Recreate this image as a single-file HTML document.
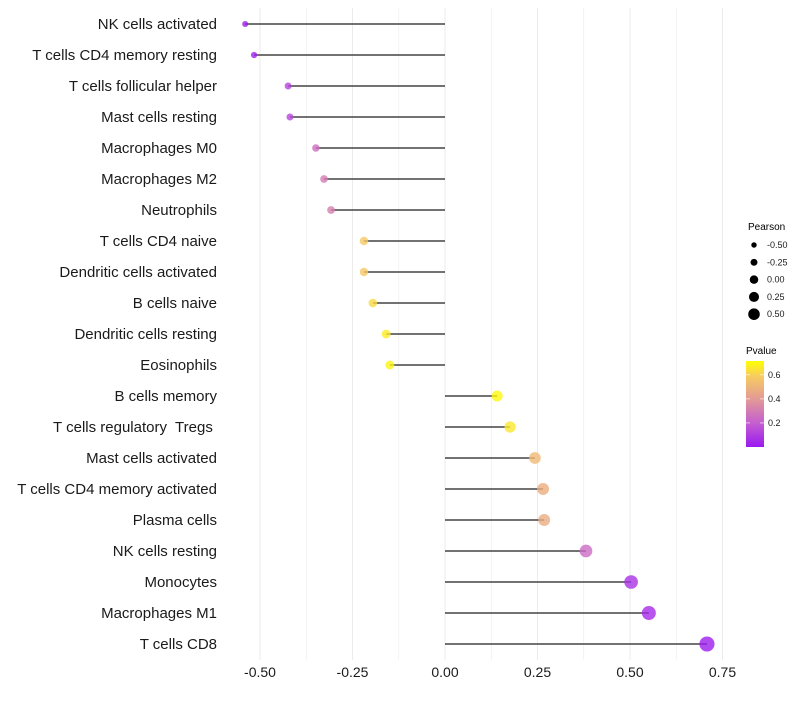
<!DOCTYPE html>
<html><head><meta charset="utf-8"><style>
html,body{margin:0;padding:0;background:#fff;}
svg text{font-family:"Liberation Sans",sans-serif;white-space:pre;}
</style></head><body>
<svg id="chart" width="800" height="700">
<defs><linearGradient id="pg" x1="0" y1="1" x2="0" y2="0">
<stop offset="0" stop-color="#9A1AF0"/><stop offset="0.28" stop-color="#C55FCF"/>
<stop offset="0.56" stop-color="#E39A95"/><stop offset="0.83" stop-color="#F7CD5E"/><stop offset="1" stop-color="#FFFF00"/>
</linearGradient></defs>
<g id="grid"></g><g id="marks"></g><g id="axes"></g>
<g id="legend">
<text x="748" y="230" font-size="10">Pearson</text>
<text x="746" y="354" font-size="10">Pvalue</text>
<rect x="746" y="361" width="18" height="86" fill="url(#pg)"/>
</g>
</svg>
<script>
const categories=["NK cells activated","T cells CD4 memory resting","T cells follicular helper","Mast cells resting","Macrophages M0","Macrophages M2","Neutrophils","T cells CD4 naive","Dendritic cells activated","B cells naive","Dendritic cells resting","Eosinophils","B cells memory","T cells regulatory  Tregs ","Mast cells activated","T cells CD4 memory activated","Plasma cells","NK cells resting","Monocytes","Macrophages M1","T cells CD8"];
const pearson=[-0.54,-0.516,-0.424,-0.419,-0.349,-0.327,-0.308,-0.219,-0.219,-0.195,-0.159,-0.149,0.141,0.176,0.243,0.265,0.268,0.381,0.503,0.551,0.708];
const pvalue=[0.01,0.02,0.12,0.13,0.25,0.29,0.31,0.58,0.58,0.63,0.67,0.69,0.70,0.66,0.52,0.48,0.47,0.24,0.07,0.05,0.01];
const xTicks=[-0.5,-0.25,0,0.25,0.5,0.75];
const xTickLabels=["-0.50","-0.25","0.00","0.25","0.50","0.75"];
const sizeLegend=[-0.5,-0.25,0,0.25,0.5];
const sizeLegendLabels=["-0.50","-0.25","0.00","0.25","0.50"];
const pTicks=[0.2,0.4,0.6];
const NS="http://www.w3.org/2000/svg";
const x=v=>445+v*370;
const y=i=>24+i*31;
const r=v=>3.2+(v+0.5)*3.6;
const pY=p=>447-(p/0.715)*86;
const stops=[[0,[154,26,240]],[0.2,[197,95,207]],[0.4,[227,154,149]],[0.6,[247,205,94]],[0.715,[255,255,0]]];
function col(p){for(let k=1;k<stops.length;k++){if(p<=stops[k][0]||k==stops.length-1){const a=stops[k-1],b=stops[k];let t=(p-a[0])/(b[0]-a[0]);t=Math.max(0,Math.min(1,t));return "rgb("+a[1].map((c,j)=>Math.round(c+(b[1][j]-c)*t)).join(",")+")";}}}
function mk(tag,attrs,parent){const e=document.createElementNS(NS,tag);for(const k in attrs)e.setAttribute(k,attrs[k]);parent.appendChild(e);return e;}
const grid=document.getElementById('grid'),marks=document.getElementById('marks'),axes=document.getElementById('axes'),legend=document.getElementById('legend');
for(let v=-0.625;v<=0.76;v+=0.125){if(x(v)<230)continue;const g=mk('line',{x1:x(v),x2:x(v),y1:8,y2:660,stroke:'#ebebeb','stroke-width':xTicks.some(t=>Math.abs(t-v)<1e-6)?1:0.6},grid);

}
categories.forEach((c,i)=>{
const t=mk('text',{x:217,y:y(i)+5,'font-size':15,'text-anchor':'end',fill:'#1a1a1a'},axes);t.textContent=c;


const l=mk('line',{x1:x(0),x2:x(pearson[i]),y1:y(i),y2:y(i),stroke:'#444','stroke-width':1.5},marks);


const d=mk('circle',{cx:x(pearson[i]),cy:y(i),r:r(pearson[i]),fill:col(pvalue[i]),'fill-opacity':0.8},marks);


});
xTicks.forEach((v,i)=>{const t=mk('text',{x:x(v),y:677,'font-size':14,'text-anchor':'middle',fill:'#1a1a1a'},axes);t.textContent=xTickLabels[i];

});
sizeLegend.forEach((v,i)=>{const cy=245+i*17.3;const c=mk('circle',{cx:754,cy:cy,r:r(v)*0.85,fill:'#000'},legend);


const t=mk('text',{x:767,y:cy+3,'font-size':9,fill:'#1a1a1a'},legend);t.textContent=sizeLegendLabels[i];

});
pTicks.forEach(p=>{const t=mk('text',{x:768,y:pY(p)+3,'font-size':9,fill:'#1a1a1a'},legend);t.textContent=p.toFixed(1);


mk('line',{x1:746,x2:750,y1:pY(p),y2:pY(p),stroke:'#fff','stroke-width':0.6},legend);mk('line',{x1:760,x2:764,y1:pY(p),y2:pY(p),stroke:'#fff','stroke-width':0.6},legend);});
</script>
</body></html>
